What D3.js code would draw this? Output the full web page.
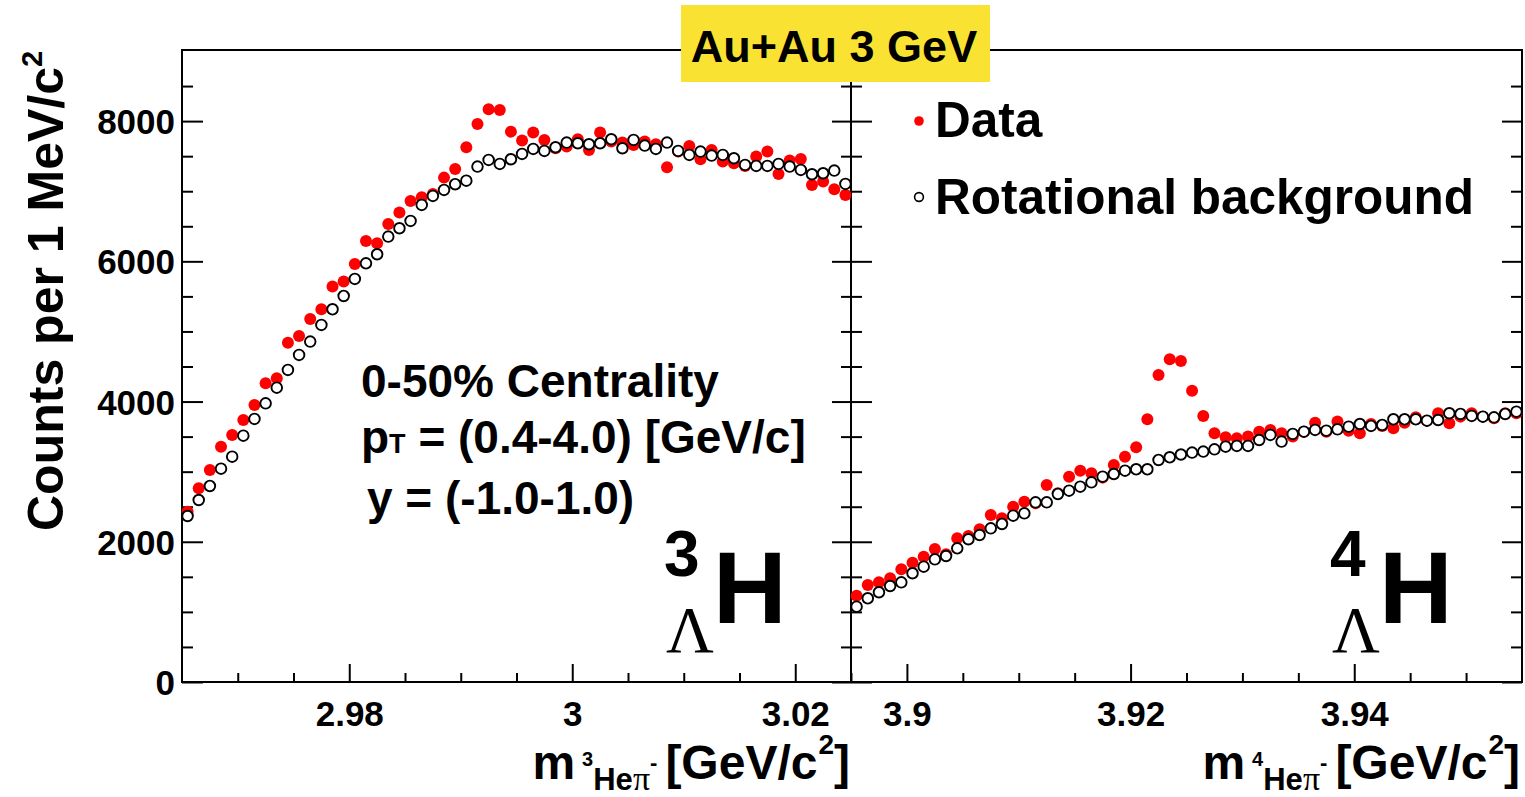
<!DOCTYPE html>
<html>
<head>
<meta charset="utf-8">
<script src="https://cdn.jsdelivr.net/npm/d3@7"></script>
<style>
  html, body { margin: 0; padding: 0; background: #ffffff; }
  svg { display: block; }
</style>
</head>
<body>
<svg id="chart" width="1525" height="797" font-family='"Liberation Sans", Arial, Helvetica, sans-serif' font-weight="bold"></svg>
<script>
// ---------------- DATA ----------------
const massL = [2.9655,2.9665,2.9675,2.9685,2.9695,2.9705,2.9715,2.9725,2.9735,2.9745,
  2.9755,2.9765,2.9775,2.9785,2.9795,2.9805,2.9815,2.9825,2.9835,2.9845,
  2.9855,2.9865,2.9875,2.9885,2.9895,2.9905,2.9915,2.9925,2.9935,2.9945,
  2.9955,2.9965,2.9975,2.9985,2.9995,3.0005,3.0015,3.0025,3.0035,3.0045,
  3.0055,3.0065,3.0075,3.0085,3.0095,3.0105,3.0115,3.0125,3.0135,3.0145,
  3.0155,3.0165,3.0175,3.0185,3.0195,3.0205,3.0215,3.0225,3.0235,3.0245];
const dataL = [2430,2763,3024,3357,3524,3738,3951,4261,4332,4840,
  4936,5178,5316,5640,5711,5963,6291,6258,6533,6695,
  6862,6914,6961,7194,7318,7627,7960,8170,8160,7850,
  7722,7836,7732,7613,7637,7741,7589,7836,7708,7694,
  7660,7708,7670,7342,7565,7646,7456,7589,7423,7399,
  7361,7494,7565,7247,7437,7461,7090,7137,7028,6947];
const bgL = [2368,2596,2796,3043,3214,3514,3752,3975,4198,4451,
  4665,4855,5093,5316,5506,5749,5972,6101,6353,6472,
  6576,6805,6933,7019,7100,7151,7351,7447,7389,7456,
  7532,7603,7575,7627,7694,7684,7670,7684,7741,7613,
  7732,7651,7603,7694,7575,7518,7565,7508,7518,7470,
  7375,7361,7361,7389,7351,7304,7242,7256,7294,7104];

const massR = [3.8955,3.8965,3.8975,3.8985,3.8995,3.9005,3.9015,3.9025,3.9035,3.9045,
  3.9055,3.9065,3.9075,3.9085,3.9095,3.9105,3.9115,3.9125,3.9135,3.9145,
  3.9155,3.9165,3.9175,3.9185,3.9195,3.9205,3.9215,3.9225,3.9235,3.9245,
  3.9255,3.9265,3.9275,3.9285,3.9295,3.9305,3.9315,3.9325,3.9335,3.9345,
  3.9355,3.9365,3.9375,3.9385,3.9395,3.9405,3.9415,3.9425,3.9435,3.9445,
  3.9455,3.9465,3.9475,3.9485,3.9495,3.9505,3.9515,3.9525,3.9535,3.9545];
const dataR = [1231,1384,1422,1479,1607,1702,1788,1897,1821,2049,
  2083,2178,2382,2335,2501,2572,2549,2810,2691,2929,
  3014,2977,2915,3096,3214,3348,3748,4379,4603,4579,
  4155,3795,3548,3491,3476,3500,3571,3595,3548,3500,
  3571,3699,3571,3714,3585,3548,3680,3652,3618,3699,
  3775,3728,3833,3690,3785,3833,3785,3761,3833,3833];
const bgR = [1074,1194,1280,1369,1422,1551,1645,1750,1797,1907,
  2036,2097,2192,2254,2373,2406,2563,2563,2682,2729,
  2786,2848,2929,2967,3014,3034,3034,3167,3205,3245,
  3272,3286,3319,3357,3367,3367,3452,3524,3429,3538,
  3571,3595,3585,3604,3642,3680,3652,3666,3747,3747,
  3747,3728,3737,3833,3823,3795,3785,3775,3823,3856];

const domainL = [2.965, 3.025];
const domainR = [3.895, 3.955];
const domainY = [0, 9000];

const yMajor = [0, 2000, 4000, 6000, 8000];
const yMinor = [500, 1000, 1500, 2500, 3000, 3500, 4500, 5000, 5500, 6500, 7000, 7500, 8500];
const yTickLabels = ["0", "2000", "4000", "6000", "8000"];

const xMajorL = [2.98, 3.00, 3.02];
const xMinorL = [2.97, 2.975, 2.985, 2.99, 2.995, 3.005, 3.01, 3.015, 3.025];
const xTickLabelsL = ["2.98", "3", "3.02"];

const xMajorR = [3.90, 3.92, 3.94];
const xMinorR = [3.905, 3.91, 3.915, 3.925, 3.93, 3.935, 3.945, 3.95];
const xTickLabelsR = ["3.9", "3.92", "3.94"];

const legendLabels = ["Data", "Rotational background"];
const infoLines = ["0-50% Centrality", "= (0.4-4.0) [GeV/c]", "y = (-1.0-1.0)"];
const titleText = "Au+Au 3 GeV";

// ---------------- LAYOUT ----------------
const svg = d3.select("#chart");
const pLeft = 182, pMid = 851, pRight = 1522, pTop = 51, pBottom = 682;

const xL = d3.scaleLinear().domain(domainL).range([pLeft, pMid]);
const xR = d3.scaleLinear().domain(domainR).range([pMid, pRight]);
const y = d3.scaleLinear().domain(domainY).range([pBottom, pTop]);

const RED = "#ff0000";
const SANS = '"Liberation Sans", Arial, Helvetica, sans-serif';
const SERIF = '"Liberation Serif", "Times New Roman", Times, serif';

function styleAxis(g) {
  g.select(".domain").remove();
  g.selectAll("line").attr("stroke", "#000").attr("stroke-width", 2);
}

// y ticks
function yTicks(x, sign, majLen, minLen) {
  const axis = sign > 0 ? d3.axisLeft(y) : d3.axisRight(y);
  svg.append("g").attr("transform", `translate(${x},0)`)
    .call(axis.tickValues(yMajor).tickSize(-majLen).tickFormat(""))
    .call(styleAxis);
  const axis2 = sign > 0 ? d3.axisLeft(y) : d3.axisRight(y);
  svg.append("g").attr("transform", `translate(${x},0)`)
    .call(axis2.tickValues(yMinor).tickSize(-minLen).tickFormat(""))
    .call(styleAxis);
}
yTicks(pLeft, 1, 21, 11);
yTicks(pMid, -1, 19, 10);
yTicks(pMid, 1, 21, 11);
yTicks(pRight, -1, 20, 11);

function styleLabels(g) {
  g.select(".domain").remove();
  g.selectAll("text").attr("font-size", 35).attr("font-weight", "bold")
    .attr("font-family", SANS).attr("fill", "#000");
}

// y labels
svg.append("g").attr("transform", `translate(${pLeft},0)`)
  .call(d3.axisLeft(y).tickValues(yMajor).tickSize(0).tickPadding(7)
    .tickFormat((d, i) => yTickLabels[i]))
  .call(styleLabels)
  .call(g => g.selectAll("text").attr("dy", "0.36em"));

// x ticks
function xTicks(scale, majors, minors, labels) {
  svg.append("g").attr("transform", `translate(0,${pBottom})`)
    .call(d3.axisBottom(scale).tickValues(majors).tickSize(-18).tickFormat(""))
    .call(styleAxis);
  svg.append("g").attr("transform", `translate(0,${pBottom})`)
    .call(d3.axisBottom(scale).tickValues(minors).tickSize(-9).tickFormat(""))
    .call(styleAxis);
  svg.append("g").attr("transform", `translate(0,${pBottom})`)
    .call(d3.axisBottom(scale).tickValues(majors).tickSize(0).tickPadding(19)
      .tickFormat((d, i) => labels[i]))
    .call(styleLabels);
}
xTicks(xL, xMajorL, xMinorL, xTickLabelsL);
xTicks(xR, xMajorR, xMinorR, xTickLabelsR);

// frame
svg.append("rect").attr("x", pLeft).attr("y", y(9000) - 1).attr("width", pRight - pLeft)
  .attr("height", pBottom - y(9000) + 1)
  .attr("fill", "none").attr("stroke", "#000").attr("stroke-width", 2);
svg.append("line").attr("x1", pMid).attr("x2", pMid).attr("y1", y(9000) - 1).attr("y2", pBottom)
  .attr("stroke", "#000").attr("stroke-width", 2);

// markers
function drawSeries(xs, scale, vals, cls) {
  const g = svg.append("g");
  const sel = g.selectAll("circle").data(vals).join("circle")
    .attr("cx", (d, i) => scale(xs[i])).attr("cy", d => y(d));
  if (cls === "data") sel.attr("r", 6).attr("fill", RED);
  else sel.attr("r", 5.3).attr("fill", "#fff").attr("stroke", "#000").attr("stroke-width", 1.9);
}
drawSeries(massL, xL, dataL, "data");
drawSeries(massL, xL, bgL, "bg");
drawSeries(massR, xR, dataR, "data");
drawSeries(massR, xR, bgR, "bg");

// title box
svg.append("rect").attr("x", 681).attr("y", 5).attr("width", 309).attr("height", 77).attr("fill", "#f9e232");
svg.append("text").attr("x", 834).attr("y", 62).attr("text-anchor", "middle")
  .attr("font-size", 45).text(titleText);

// y axis title
const yt = svg.append("text").attr("transform", "translate(63,531) rotate(-90)")
  .attr("font-size", 50).attr("text-anchor", "start");
yt.append("tspan").text("Counts per 1 MeV/c");
yt.append("tspan").attr("font-size", 29).attr("dy", -21).text("2");

// x axis titles
function xTitle(xEnd, nuc) {
  const t = svg.append("text").attr("x", xEnd).attr("y", 779).attr("text-anchor", "end").attr("font-size", 48);
  t.append("tspan").text("m");
  t.append("tspan").attr("font-size", 20).attr("dx", 7).attr("dy", -13).text(nuc);
  t.append("tspan").attr("font-size", 31).attr("dy", 24).text("He");
  t.append("tspan").attr("font-size", 34).attr("font-family", SERIF)
    .attr("font-weight", "normal").text("π");
  t.append("tspan").attr("font-size", 22).attr("dy", -20).text("-");
  t.append("tspan").attr("font-size", 48).attr("dx", 8).attr("dy", 9).text("[GeV/c");
  t.append("tspan").attr("font-size", 28).attr("dx", 1).attr("dy", -25).text("2");
  t.append("tspan").attr("font-size", 48).attr("dy", 25).text("]");
}
xTitle(850, "3");
xTitle(1520, "4");

// hypernucleus labels
function hyper(x0, a) {
  svg.append("text").attr("x", x0).attr("y", 576).attr("font-size", 64).text(a);
  svg.append("text").attr("x", x0 + 2).attr("y", 652).attr("font-size", 66)
    .attr("font-family", SERIF).attr("font-weight", "normal").text("Λ");
  svg.append("text").attr("x", x0 + 49).attr("y", 623).attr("font-size", 102).text("H");
}
hyper(664, "3");
hyper(1330, "4");

// info text
svg.append("text").attr("x", 361).attr("y", 397).attr("font-size", 46).text(infoLines[0]);
const l2 = svg.append("text").attr("x", 361).attr("y", 453).attr("font-size", 46);
l2.append("tspan").text("p");
l2.append("tspan").attr("font-size", 27).text("T");
l2.append("tspan").text(" " + infoLines[1]);
svg.append("text").attr("x", 367).attr("y", 514).attr("font-size", 46).text(infoLines[2]);

// legend
svg.append("circle").attr("cx", 919).attr("cy", 121).attr("r", 4.8).attr("fill", RED);
svg.append("circle").attr("cx", 919).attr("cy", 197).attr("r", 4.4).attr("fill", "#fff")
  .attr("stroke", "#000").attr("stroke-width", 1.6);
svg.append("text").attr("x", 935).attr("y", 137).attr("font-size", 49.5).text(legendLabels[0]);
svg.append("text").attr("x", 935).attr("y", 214).attr("font-size", 49.5).text(legendLabels[1]);
</script>
</body>
</html>
